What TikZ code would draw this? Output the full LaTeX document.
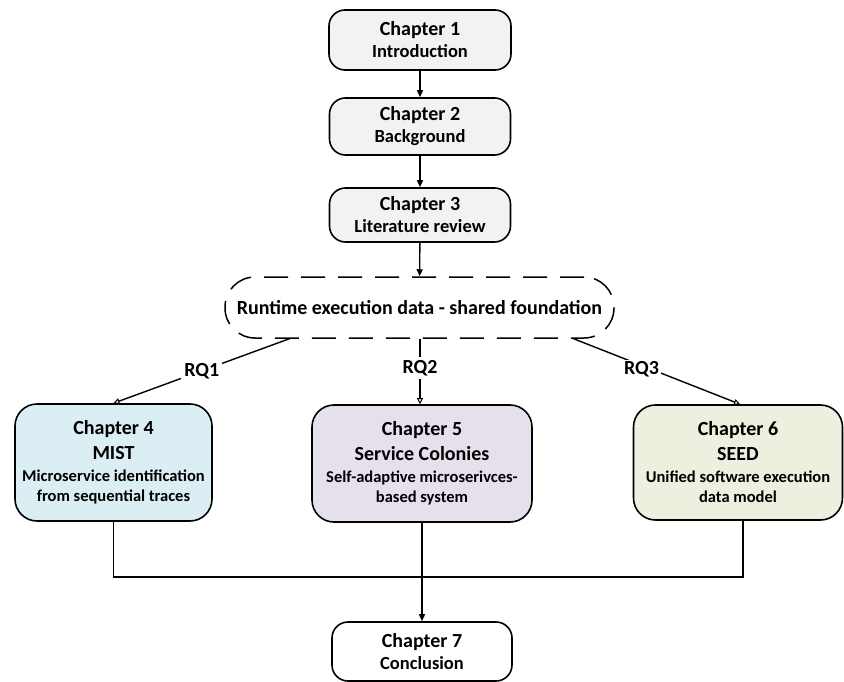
\documentclass[tikz,border=0pt]{standalone}
\usepackage{fontspec}
\setmainfont{Carlito}
\usetikzlibrary{arrows.meta}

\definecolor{greyfill}{HTML}{F2F2F2}
\definecolor{bluefill}{HTML}{DAEEF3}
\definecolor{lilacfill}{HTML}{E6E0EC}
\definecolor{greenfill}{HTML}{EBF1DE}

\newcommand\chtitle[1]{{\fontsize{20}{20}\selectfont #1}}
\newcommand\chsub[1]{{\fontsize{18.5}{20}\selectfont #1}}

\begin{document}
\begin{tikzpicture}[x=1pt,y=-1pt,
  chapbox/.style={draw=black, line width=1.6pt, rounded corners=16pt,
    align=center, inner sep=0pt, font=\bfseries\fontsize{16.5}{20}\selectfont},
  bigbox/.style={chapbox, rounded corners=22pt},
  foundation/.style={draw=black, line width=1.5pt, rounded corners=30pt,
    dash pattern=on 24pt off 13pt, align=center, inner sep=0pt, font=\bfseries},
  flow/.style={line width=1.4pt, -{Triangle[length=7pt,width=6pt]}},
  rqflow/.style={line width=1.4pt, -{Triangle[open,length=6pt,width=6pt,line width=1pt]}},
  link/.style={line width=1.4pt},
  rqlabel/.style={fill=white, inner sep=3pt, font=\bfseries\fontsize{20}{24}\selectfont}
]
\useasboundingbox (0,0) rectangle (844,682);

% sequential introductory chapters
\node[chapbox, fill=greyfill, minimum width=182pt, minimum height=60pt] (c1) at (420,40)
  {\chtitle{Chapter 1}\\[2pt]\chsub{Introduction}};
\node[chapbox, fill=greyfill, minimum width=181pt, minimum height=57pt] (c2) at (420,126.5)
  {\chtitle{Chapter 2}\\[2pt]\chsub{Background}};
\node[chapbox, fill=greyfill, minimum width=181pt, minimum height=54pt] (c3) at (420,215)
  {\chtitle{Chapter 3}\\[2pt]\chsub{Literature review}};

% shared foundation
\node[foundation, minimum width=389pt, minimum height=61pt] (found) at (419.5,307.5)
  {\fontsize{20}{24}\selectfont Runtime execution data - shared foundation};

% contribution chapters
\node[bigbox, fill=bluefill, minimum width=197pt, minimum height=117pt] (c4) at (113.5,462.5)
  {\chtitle{Chapter 4}\\[5pt]\chtitle{MIST}\\[2pt]Microservice identification\\from sequential traces};
\node[bigbox, fill=lilacfill, minimum width=220pt, minimum height=117pt] (c5) at (422,463.5)
  {\chtitle{Chapter 5}\\[5pt]\chtitle{Service Colonies}\\[2pt]Self-adaptive microserivces-\\based system};
\node[bigbox, fill=greenfill, minimum width=209pt, minimum height=115pt] (c6) at (738,462.5)
  {\chtitle{Chapter 6}\\[5pt]\chtitle{SEED}\\[2pt]Unified software execution\\data model};

% conclusion
\node[chapbox, fill=white, minimum width=180pt, minimum height=59pt] (c7) at (422,651.5)
  {\chtitle{Chapter 7}\\[2pt]\chsub{Conclusion}};

% connectors
\draw[flow] (c1) -- (c2);
\draw[flow] (c2) -- (c3);
\draw[flow] (c3) -- (found);

\coordinate (f1) at (290,338.5);
\coordinate (f2) at (420,338.5);
\coordinate (f3) at (573,338.5);
\draw[rqflow] (f1) -- node[rqlabel, pos=0.5] {RQ1} (c4.north);
\draw[rqflow] (f2) -- node[rqlabel, pos=0.45] {RQ2} (c5.north -| f2);
\draw[rqflow] (f3) -- node[rqlabel, pos=0.41, yshift=-4pt, inner sep=2pt] {RQ3} ([xshift=2pt]c6.north);

\coordinate (bus) at (422,577);
\draw[link] (c4.south) -- (c4.south |- bus) -- ([xshift=5pt]c6.south |- bus) -- ([xshift=5pt]c6.south);
\draw[flow] (c5.south) -- (c7.north);
\end{tikzpicture}
\end{document}
